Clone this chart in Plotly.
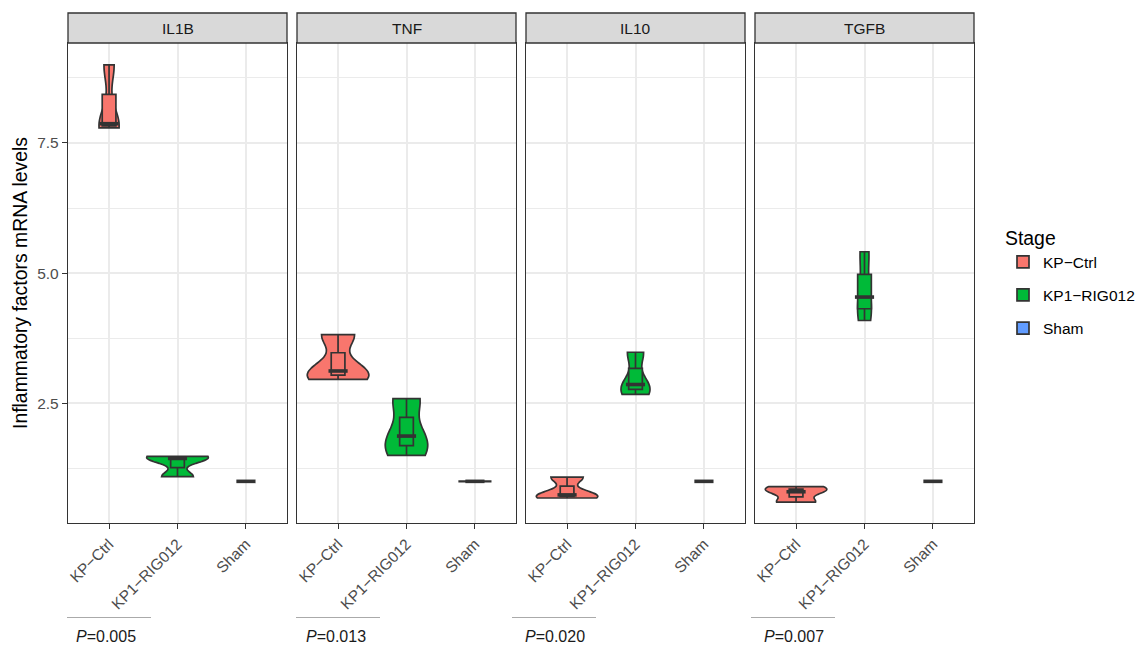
import numpy as np
import plotly.graph_objects as go

# ---------------- data ----------------
genes = ["IL1B", "TNF", "IL10", "TGFB"]
stages = ["KP-Ctrl", "KP1-RIG012", "Sham"]
stage_labels = ["KP\u2212Ctrl", "KP1\u2212RIG012", "Sham"]

IL1B = {"KP-Ctrl": [7.79, 7.87, 9.00], "KP1-RIG012": [1.09, 1.44, 1.48], "Sham": [1.0, 1.0, 1.0]}
TNF = {"KP-Ctrl": [2.96, 3.12, 3.82], "KP1-RIG012": [1.50, 1.87, 2.59], "Sham": [1.0, 1.0, 1.0]}
IL10 = {"KP-Ctrl": [0.68, 0.74, 1.08], "KP1-RIG012": [2.67, 2.86, 3.48], "Sham": [1.0, 1.0, 1.0]}
TGFB = {"KP-Ctrl": [0.60, 0.80, 0.90], "KP1-RIG012": [4.09, 4.54, 5.41], "Sham": [1.0, 1.0, 1.0]}
gene_data = [IL1B, TNF, IL10, TGFB]

p_values = ["0.005", "0.013", "0.020", "0.007"]
y_ticks = [2.5, 5.0, 7.5]
y_tick_labels = ["2.5", "5.0", "7.5"]
y_minor = [1.25, 3.75, 6.25, 8.75]

# ---------------- style ----------------
colors = {"KP-Ctrl": "#F8766D", "KP1-RIG012": "#00BA38", "Sham": "#619CFF"}
W, H = 1143, 649
panel_left_px = [68, 297, 526, 755]
panel_w_px = 219
plot_top_px, plot_bot_px = 43, 523
strip_top_px = 13
FONT = "Liberation Sans, Arial, sans-serif"
dark = "#333333"
grid = "#EBEBEB"
outline_w = 1.7
box_w = 0.2


def bw_nrd0(x):
    x = np.asarray(x, float)
    hi = np.std(x, ddof=1)
    q75, q25 = np.percentile(x, [75, 25])
    lo = min(hi, (q75 - q25) / 1.34)
    if not lo:
        lo = hi or abs(x[0]) or 1.0
    return 0.9 * lo * len(x) ** -0.2


def peak_density(x, bw):
    x = np.asarray(x, float)
    g = np.linspace(x.min(), x.max(), 512) if x.max() > x.min() else np.array([x.min()])
    d = np.exp(-0.5 * ((g[:, None] - x[None, :]) / bw) ** 2).sum(1) / (len(x) * bw * np.sqrt(2 * np.pi))
    return d.max()


fig = go.Figure()
ydom = [1 - plot_bot_px / H, 1 - plot_top_px / H]
unit_px = panel_w_px / 3.2

for i, (gene, data) in enumerate(zip(genes, gene_data)):
    k = "" if i == 0 else str(i + 1)
    xa, ya = "x" + k, "y" + k
    bws = {s: bw_nrd0(data[s]) for s in stages}
    peaks = {s: peak_density(data[s], bws[s]) for s in stages}
    pmax = max(peaks.values())
    for s in stages:
        vals = data[s]
        v = dict(
            x=[s] * len(vals), y=vals, xaxis=xa, yaxis=ya,
            fillcolor=colors[s], line=dict(color=dark, width=outline_w),
            opacity=1, points=False, bandwidth=bws[s],
            scalemode="width", width=0.9 * peaks[s] / pmax,
            showlegend=False, legendgroup=s, hoverinfo="y", name=s,
        )
        if max(vals) > min(vals):
            v.update(spanmode="hard")
        else:
            v.update(spanmode="manual", span=[vals[0] - 0.004, vals[0] + 0.004])
        fig.add_trace(go.Violin(**v))
    for s in stages:
        vals = data[s]
        fig.add_trace(go.Box(
            x=[s] * len(vals), y=vals, xaxis=xa, yaxis=ya,
            fillcolor=colors[s], line=dict(color=dark, width=outline_w),
            width=box_w, whiskerwidth=0, boxpoints=False, quartilemethod="inclusive",
            name=stage_labels[stages.index(s)], legendgroup=s,
            showlegend=(i == 0), hoverinfo="y",
        ))
    # thick median bars (ggplot's fattened median)
    fig.add_trace(go.Scatter(
        x=stages, y=[float(np.median(data[s])) for s in stages], xaxis=xa, yaxis=ya,
        mode="markers", showlegend=False, hoverinfo="skip",
        marker=dict(symbol="line-ew", size=box_w * unit_px,
                    line=dict(width=3.6, color=dark)),
    ))

    x0 = panel_left_px[i] / W
    x1 = (panel_left_px[i] + panel_w_px) / W
    fig.layout["xaxis" + k] = dict(
        domain=[x0, x1], anchor=ya, type="category",
        categoryorder="array", categoryarray=stages, range=[-0.6, 2.6],
        tickmode="array", tickvals=stages, ticktext=stage_labels,
        tickangle=-45, ticks="outside", ticklen=5, tickwidth=1.3, tickcolor=dark,
        tickfont=dict(size=15.5, color="#4D4D4D", family=FONT),
        showgrid=True, gridcolor=grid, gridwidth=1.6,
        showline=True, linecolor=dark, linewidth=1.3, mirror=True, zeroline=False,
    )
    fig.layout["yaxis" + k] = dict(
        domain=ydom, anchor=xa, range=[0.2, 9.42],
        tickmode="array", tickvals=y_ticks, ticktext=y_tick_labels,
        ticks="outside" if i == 0 else "", ticklen=5, tickwidth=1.3, tickcolor=dark,
        showticklabels=(i == 0),
        tickfont=dict(size=15.5, color="#4D4D4D", family=FONT),
        showgrid=True, gridcolor=grid, gridwidth=1.6,
        minor=dict(tickmode="array", tickvals=y_minor, showgrid=True,
                   gridcolor=grid, gridwidth=0.9, ticks=""),
        showline=True, linecolor=dark, linewidth=1.3, mirror=True, zeroline=False,
    )
    # strip
    fig.add_shape(type="rect", xref=xa + " domain", yref="paper",
                  x0=0, x1=1, y0=ydom[1], y1=1 - strip_top_px / H,
                  fillcolor="#D9D9D9", line=dict(color=dark, width=1.3), layer="above")
    fig.add_annotation(text=gene, xref=xa + " domain", yref="paper", x=0.5,
                       y=(ydom[1] + 1 - strip_top_px / H) / 2, showarrow=False,
                       xanchor="center", yanchor="middle",
                       font=dict(size=15.5, color="#1A1A1A", family=FONT))

# P-value labels and their rules
p_line_px = [(67, 151), (296, 380), (512, 596), (751, 835)]
p_center_px = [106, 336, 555, 794]
for (a, b), c, p in zip(p_line_px, p_center_px, p_values):
    fig.add_shape(type="line", xref="paper", yref="paper", x0=a / W, x1=b / W,
                  y0=1 - 617.5 / H, y1=1 - 617.5 / H, line=dict(color="#AAAAAA", width=1))
    fig.add_annotation(text="<i>P</i>=" + p, xref="paper", yref="paper",
                       x=c / W, y=1 - 636.5 / H, showarrow=False,
                       xanchor="center", yanchor="middle",
                       font=dict(size=16, color="#1A1A1A", family=FONT))

# y-axis title
fig.add_annotation(text="Inflammatory factors mRNA levels", xref="paper", yref="paper",
                   x=20 / W, y=(ydom[0] + ydom[1]) / 2, textangle=-90, showarrow=False,
                   xanchor="center", yanchor="middle",
                   font=dict(size=19.4, color="black", family=FONT))

fig.update_layout(
    width=W, height=H, autosize=False,
    margin=dict(l=0, r=0, t=0, b=0),
    paper_bgcolor="white", plot_bgcolor="white",
    font=dict(family=FONT),
    violinmode="overlay", boxmode="overlay",
    legend=dict(x=1003 / W, xanchor="left", y=1 - 220 / H, yanchor="top",
                title=dict(text="Stage", font=dict(size=19.4, color="black", family=FONT)),
                font=dict(size=15.5, color="black", family=FONT),
                traceorder="grouped", tracegroupgap=10, bgcolor="rgba(0,0,0,0)"),
)

fig.write_html("out.html", config={"displayModeBar": False},
               post_script="document.body.style.margin='0px';document.body.style.overflow='hidden';")
